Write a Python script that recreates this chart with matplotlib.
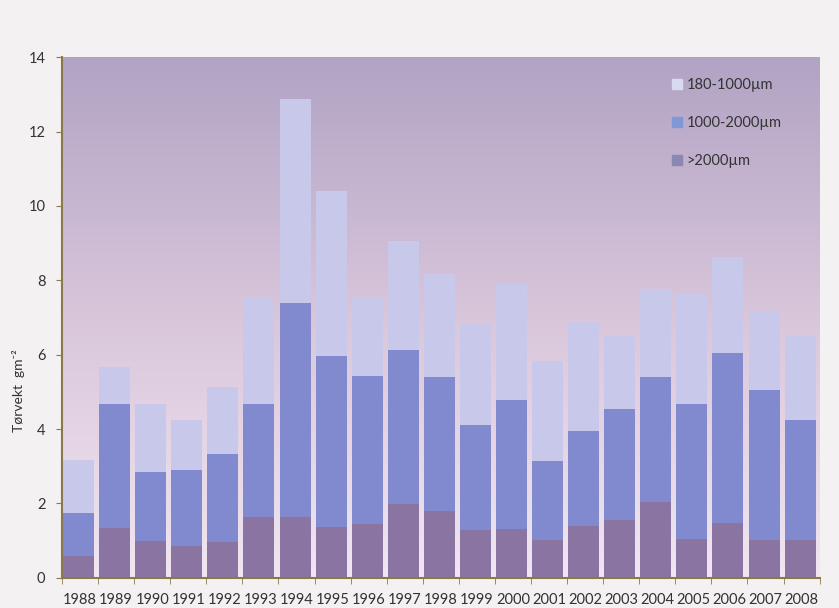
import numpy as np
import matplotlib
matplotlib.use("Agg")
import matplotlib.pyplot as plt
from matplotlib.colors import LinearSegmentedColormap
from matplotlib.patches import Patch

plt.rcParams['font.family'] = ['Lato', 'DejaVu Sans']

years = [str(y) for y in range(1988, 2009)]
# segment values, gm-2
big = [0.59, 1.34, 1.00, 0.86, 0.96, 1.64, 1.64, 1.36, 1.45, 1.97, 1.79,
       1.29, 1.32, 1.02, 1.40, 1.55, 2.03, 1.05, 1.48, 1.02, 1.02]
mid = [1.14, 3.34, 1.85, 2.05, 2.36, 3.04, 5.74, 4.61, 3.97, 4.16, 3.60,
       2.83, 3.45, 2.13, 2.56, 3.00, 3.38, 3.62, 4.56, 4.03, 3.22]
small = [1.43, 1.00, 1.82, 1.33, 1.82, 2.87, 5.50, 4.44, 2.10, 2.92, 2.79,
         2.70, 3.12, 2.68, 2.93, 1.95, 2.37, 2.97, 2.59, 2.09, 2.25]
labels = ['180-1000µm', '1000-2000µm', '>2000µm']

c_big = '#8a75a2'
c_mid = '#8189cf'
c_small = '#c7c8ea'
spine = '#8a7a4a'

fig = plt.figure(figsize=(8.39, 6.08), dpi=100, facecolor='#f3f1f1')
ax = fig.add_axes([0.0739, 0.0498, 0.903, 0.856])

# background gradient
cmap = LinearSegmentedColormap.from_list('bg', ['#f1e6f1', '#d9c6db', '#b1a3c4'])
grad = np.linspace(0, 1, 256).reshape(-1, 1)
ax.imshow(grad, cmap=cmap, origin='lower', aspect='auto',
          extent=(-0.5, len(years) - 0.5, 0, 14), zorder=0)

x = np.arange(len(years))
w = 0.86
bot = np.array(big)
m = np.array(mid)
ax.bar(x - 0.04, big, w, color=c_big, zorder=2)
ax.bar(x - 0.04, mid, w, bottom=bot, color=c_mid, zorder=2)
ax.bar(x - 0.04, small, w, bottom=bot + m, color=c_small, zorder=2)

ax.set_xlim(-0.5, len(years) - 0.5)
ax.set_ylim(0, 14)
ax.set_yticks(range(0, 15, 2))
ax.set_xticks(x)
ax.set_xticklabels(years, fontsize=10.5, color='#333333')
ax.set_xticks(np.arange(-0.5, len(years)), minor=True)
ax.tick_params(axis='x', which='major', length=0, pad=11)
ax.tick_params(axis='x', which='minor', length=4, color=spine, direction='out')
ax.tick_params(axis='y', length=4, color=spine, labelsize=10.5, labelcolor='#333333', pad=8)

for s in ['top', 'right']:
    ax.spines[s].set_visible(False)
for s in ['left', 'bottom']:
    ax.spines[s].set_color(spine)
    ax.spines[s].set_linewidth(1.5)

ax.set_ylabel('Tørvekt  gm⁻²', fontsize=10, color='#333333')
ax.yaxis.set_label_coords(-0.049, 0.36)

handles = [Patch(color='#d9d9f2'), Patch(color='#7f99d6'), Patch(color='#8a88b2')]
ax.legend(handles, labels, loc='upper right', bbox_to_anchor=(0.967, 0.985),
          frameon=False, fontsize=10.5, handlelength=0.7, handleheight=0.7,
          handletextpad=0.3, labelspacing=1.65, labelcolor='#333333')

fig.savefig('out.png', dpi=100, facecolor=fig.get_facecolor())
